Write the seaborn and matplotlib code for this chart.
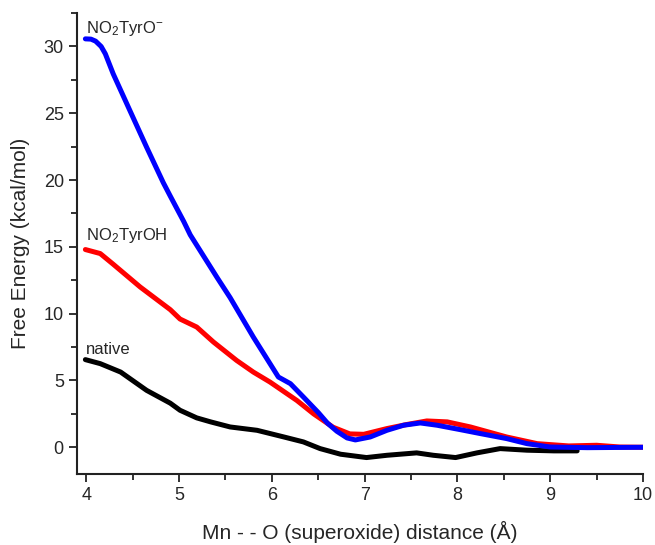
import pandas as pd
import seaborn as sns
import matplotlib.pyplot as plt
from matplotlib.ticker import MultipleLocator

# Curvas (distância Mn--O em Å, energia livre em kcal/mol)
x_blue = [3.99, 4.05, 4.1, 4.16, 4.205, 4.29, 4.47, 4.65, 4.83, 4.905, 5.05, 5.12, 5.41, 5.55, 5.80,
          6.07, 6.20, 6.34, 6.5, 6.6, 6.7, 6.81, 6.9, 7.06, 7.24, 7.42, 7.6, 7.78, 8.03, 8.25,
          8.53, 8.75, 9.0, 9.4, 10.0]
y_blue = [30.57, 30.55, 30.4, 30.0, 29.45, 27.95, 25.2, 22.46, 19.8, 18.8, 16.9, 15.9, 12.7, 11.2, 8.25,
          5.26, 4.76, 3.76, 2.6, 1.8, 1.2, 0.7, 0.55, 0.77, 1.27, 1.65, 1.82, 1.65, 1.32, 1.02,
          0.65, 0.27, 0.02, -0.03, 0.0]

x_red = [3.99, 4.15, 4.29, 4.58, 4.905, 5.01, 5.19, 5.37, 5.62, 5.80, 5.98, 6.27, 6.45, 6.66,
         6.84, 6.99, 7.24, 7.45, 7.67, 7.89, 8.14, 8.53, 8.86, 9.2, 9.5, 9.75, 10.0]
y_red = [14.8, 14.5, 13.7, 12.0, 10.3, 9.6, 9.0, 7.88, 6.5, 5.63, 4.88, 3.5, 2.5, 1.5,
         1.0, 0.97, 1.4, 1.7, 1.97, 1.9, 1.52, 0.77, 0.27, 0.1, 0.15, 0.02, 0.0]

x_black = [3.99, 4.15, 4.37, 4.65, 4.905, 5.01, 5.19, 5.34, 5.55, 5.84, 6.13, 6.34, 6.52,
           6.74, 7.02, 7.24, 7.56, 7.74, 7.98, 8.21, 8.46, 8.75, 9.04, 9.29]
y_black = [6.56, 6.26, 5.63, 4.26, 3.3, 2.77, 2.2, 1.9, 1.52, 1.27, 0.77, 0.4, -0.1,
           -0.52, -0.77, -0.6, -0.42, -0.6, -0.77, -0.42, -0.1, -0.22, -0.27, -0.27]

series = [('NO$_2$TyrO$^{-}$', x_blue, y_blue, '#0000ff'),
          ('NO$_2$TyrOH', x_red, y_red, '#ff0000'),
          ('native', x_black, y_black, '#000000')]

sns.set_style('ticks')
plt.rcParams['font.family'] = ['Liberation Sans', 'DejaVu Sans']
plt.rcParams['mathtext.fontset'] = 'custom'
plt.rcParams['mathtext.rm'] = 'Liberation Sans'
plt.rcParams['mathtext.it'] = 'Liberation Sans'

fig = plt.figure(figsize=(6.55, 5.45), dpi=100)
ax = fig.add_axes([0.1176, 0.1303, 0.8641, 0.8457])

# ordem de desenho: preto, vermelho, azul por cima
for nome, xs, ys, cor in [series[2], series[1], series[0]]:
    df = pd.DataFrame({'x': xs, 'y': ys})
    sns.lineplot(data=df, x='x', y='y', color=cor, linewidth=3.6, ax=ax, sort=False)

# rótulos das curvas
ax.text(4.0, 31.0, series[0][0], fontsize=12, ha='left', va='baseline')
ax.text(4.0, 15.5, series[1][0], fontsize=12, ha='left', va='baseline')
ax.text(4.0, 7.0, series[2][0], fontsize=12, ha='left', va='baseline')

ax.set_xlim(3.9, 10)
ax.set_ylim(-2, 32.5)
ax.xaxis.set_major_locator(MultipleLocator(1))
ax.xaxis.set_minor_locator(MultipleLocator(0.5))
ax.yaxis.set_major_locator(MultipleLocator(5))
ax.yaxis.set_minor_locator(MultipleLocator(2.5))
ax.tick_params(which='major', direction='out', length=6, width=1.3, labelsize=13, color='#222222')
ax.tick_params(which='minor', direction='out', length=4, width=1.3, color='#222222')
for s in ['left', 'bottom']:
    ax.spines[s].set_linewidth(1.5)
    ax.spines[s].set_color('#222222')
sns.despine(ax=ax)

ax.set_xlabel('Mn - - O (superoxide) distance (Å)', fontsize=15, labelpad=12)
ax.set_ylabel('Free Energy (kcal/mol)', fontsize=15, labelpad=10)

plt.savefig('out.png', dpi=100)
plt.close()
